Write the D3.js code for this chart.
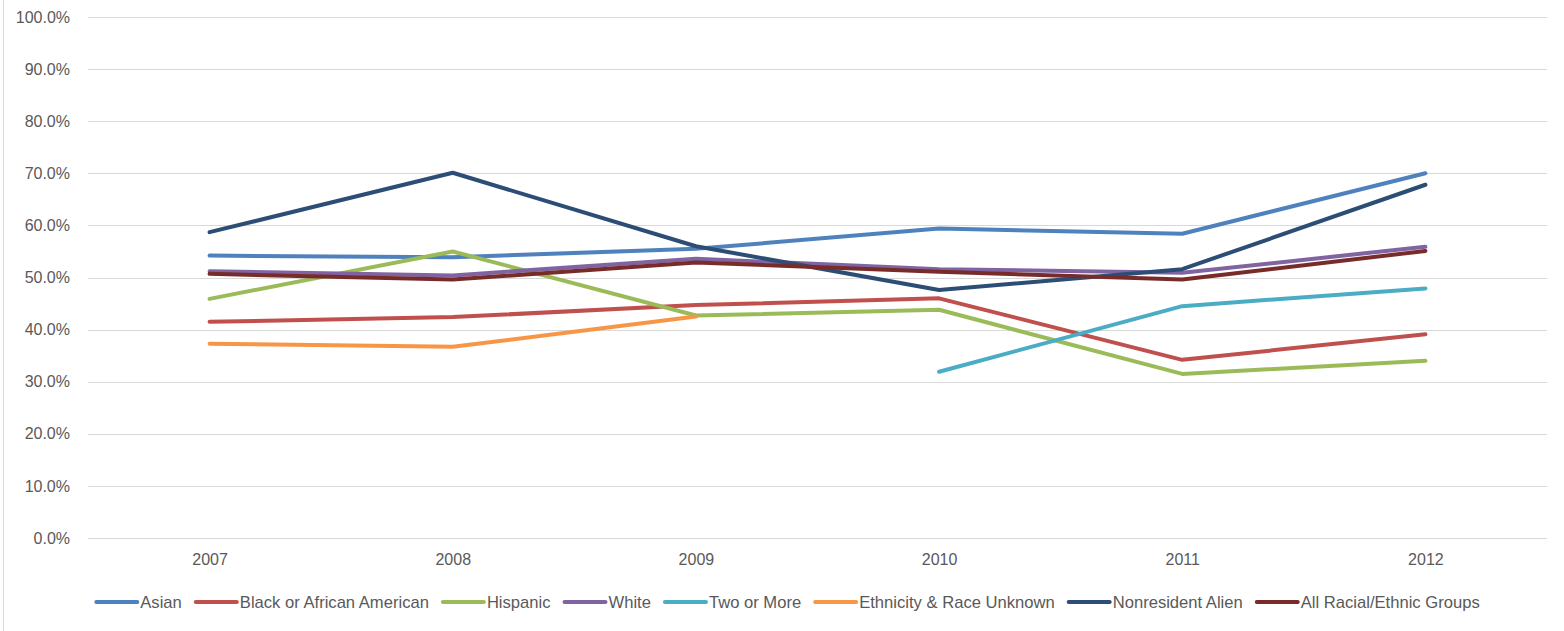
<!DOCTYPE html>
<html>
<head>
<meta charset="utf-8">
<script src="https://cdn.jsdelivr.net/npm/d3@7/dist/d3.min.js"></script>
<style>
  body { margin: 0; background: #fff; }
  svg text { font-family: "Liberation Sans", Arial, sans-serif; fill: #595959; }
</style>
</head>
<body>
<svg id="chart" width="1564" height="631"></svg>
<script>
// chart values
const years = ["2007", "2008", "2009", "2010", "2011", "2012"];
const yTicks = [0, 10, 20, 30, 40, 50, 60, 70, 80, 90, 100];

const seriesNames = ["Asian", "Black or African American", "Hispanic", "White",
    "Two or More", "Ethnicity & Race Unknown", "Nonresident Alien", "All Racial/Ethnic Groups"];
const seriesColors = ["#4F81BD", "#C0504D", "#9BBB59", "#8064A2",
    "#4BACC6", "#F79646", "#2C4D75", "#772C2A"];

const asian       = [54.2, 53.9, 55.5, 59.4, 58.4, 70.0];
const black       = [41.5, 42.4, 44.7, 46.0, 34.2, 39.1];
const hispanic    = [45.9, 55.0, 42.7, 43.8, 31.5, 34.0];
const white       = [51.2, 50.4, 53.6, 51.6, 50.9, 55.9];
const twoOrMore   = [null, null, null, 31.9, 44.5, 47.9];
const unknown     = [37.3, 36.7, 42.5, null, null, null];
const nonresident = [58.7, 70.1, 56.0, 47.6, 51.6, 67.8];
const allGroups   = [50.7, 49.6, 52.9, 51.1, 49.6, 55.1];

const seriesValues = [asian, black, hispanic, white, twoOrMore, unknown, nonresident, allGroups];

const margin = {top: 17, left: 88, right: 17, bottom: 93};
const width = 1564, height = 631;

const svg = d3.select("#chart");

// light frame edge on the left
svg.append("line")
    .attr("x1", 3.5).attr("x2", 3.5)
    .attr("y1", 0).attr("y2", height)
    .attr("stroke", "#d9d9d9");

const xScale = d3.scalePoint()
    .domain(years)
    .range([margin.left, width - margin.right])
    .padding(0.5);

const yScale = d3.scaleLinear()
    .domain([0, 100])
    .range([height - margin.bottom, margin.top]);

// gridlines
svg.append("g").selectAll("line")
    .data(yTicks)
    .enter()
    .append("line")
    .attr("x1", margin.left)
    .attr("x2", width - margin.right)
    .attr("y1", d => Math.round(yScale(d)) + 0.5)
    .attr("y2", d => Math.round(yScale(d)) + 0.5)
    .attr("stroke", "#d9d9d9")
    .attr("stroke-width", 1);

// y axis
const yAxis = svg.append("g")
    .attr("transform", `translate(${margin.left - 4},0)`)
    .call(d3.axisLeft(yScale).tickValues(yTicks).tickSize(0).tickPadding(14)
        .tickFormat(d => d.toFixed(1) + "%"));
yAxis.select(".domain").remove();
yAxis.selectAll(".tick text")
    .style("font-size", "16px")
    .style("fill", "#595959")
    .style("font-family", "'Liberation Sans', Arial, sans-serif");

// x axis
const xAxis = svg.append("g")
    .attr("transform", `translate(0,${height - margin.bottom})`)
    .call(d3.axisBottom(xScale).tickSize(0).tickPadding(16));
xAxis.select(".domain").remove();
xAxis.selectAll(".tick text")
    .style("font-size", "16px")
    .style("fill", "#595959")
    .style("font-family", "'Liberation Sans', Arial, sans-serif");

// lines
const line = d3.line()
    .defined(d => d.value !== null)
    .x(d => xScale(d.year))
    .y(d => yScale(d.value));

const seriesData = seriesNames.map((name, i) => ({
    name,
    color: seriesColors[i],
    points: years.map((year, j) => ({year, value: seriesValues[i][j]}))
}));

svg.append("g").selectAll("path")
    .data(seriesData)
    .enter()
    .append("path")
    .attr("d", d => line(d.points))
    .attr("fill", "none")
    .attr("stroke", d => d.color)
    .attr("stroke-width", 4)
    .attr("stroke-linecap", "round")
    .attr("stroke-linejoin", "round");

// legend
const legend = svg.append("g");
const legendY = 602;
const swatch = 41, swatchGap = 3, itemGap = 14;
const items = legend.selectAll("g")
    .data(seriesData)
    .enter()
    .append("g");
items.append("line")
    .attr("x1", 0).attr("x2", swatch)
    .attr("y1", 0).attr("y2", 0)
    .attr("stroke", d => d.color)
    .attr("stroke-width", 4)
    .attr("stroke-linecap", "round");
items.append("text")
    .attr("x", swatch + swatchGap)
    .attr("dy", "0.35em")
    .style("font-size", "16.6px")
    .text(d => d.name);

let widths = [];
items.each(function() {
    widths.push(swatch + swatchGap + d3.select(this).select("text").node().getComputedTextLength());
});
const total = d3.sum(widths) + itemGap * (widths.length - 1);
let cursor = (width - total) / 2 + 6;
items.attr("transform", (d, i) => {
    const x = cursor;
    cursor += widths[i] + itemGap;
    return `translate(${x},${legendY})`;
});
</script>
</body>
</html>
